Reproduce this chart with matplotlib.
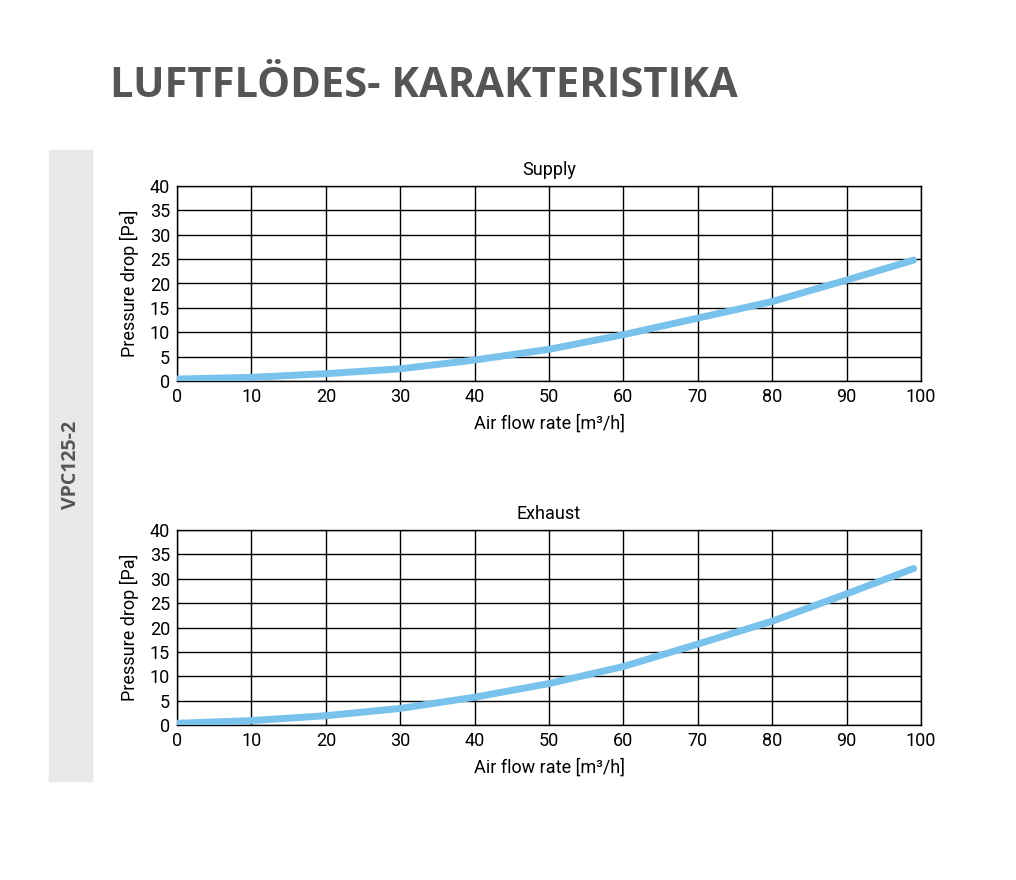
import matplotlib.pyplot as plt
from matplotlib.patches import Rectangle

plt.rcParams['font.family'] = ['Roboto', 'DejaVu Sans']

flow = [0, 10, 20, 30, 40, 50, 60, 70, 80, 90, 99]
supply = [0.4, 0.75, 1.5, 2.5, 4.3, 6.5, 9.5, 12.9, 16.3, 20.7, 24.8]
exhaust = [0.35, 0.9, 1.9, 3.4, 5.7, 8.5, 12.0, 16.6, 21.3, 26.9, 32.1]
x_ticks = list(range(0, 101, 10))
y_ticks = list(range(0, 41, 5))

title = 'LUFTFLÖDES- KARAKTERISTIKA'
model = 'VPC125-2'
curve_color = '#78c2ec'
text_gray = '#555555'

W, H = 1016, 880
fig = plt.figure(figsize=(W / 100, H / 100), dpi=100)

# grey side band with model name
fig.patches.append(Rectangle((49 / W, (H - 781) / H), 43 / W, 631 / H,
                             transform=fig.transFigure, color='#e8e8e8', zorder=0))
fig.text(71 / W, (H - 465) / H, model, rotation=90, ha='center', va='center',
         fontsize=14, fontweight='bold', color=text_gray, family='Open Sans')

fig.text(110 / W, (H - 97) / H, title, ha='left', va='baseline',
         fontsize=30, fontweight='bold', color=text_gray, family='Open Sans')


def draw(ax, y, name):
    ax.plot(flow, y, color=curve_color, lw=5, solid_capstyle='round', zorder=3)
    ax.set_xlim(0, 100)
    ax.set_ylim(0, 40)
    ax.set_xticks(x_ticks)
    ax.set_yticks(y_ticks)
    ax.grid(True, color='black', lw=1)
    ax.set_axisbelow(True)
    ax.tick_params(length=0, pad=5, labelsize=13)
    for s in ax.spines.values():
        s.set_color('black')
        s.set_linewidth(1)
    ax.set_title(name, fontsize=13, pad=8)
    ax.set_xlabel('Air flow rate [m³/h]', fontsize=13, labelpad=6)
    ax.set_ylabel('Pressure drop [Pa]', fontsize=13, labelpad=8)


ax1 = fig.add_axes([177 / W, (H - 381) / H, 744 / W, 195 / H])
draw(ax1, supply, 'Supply')
ax2 = fig.add_axes([177 / W, (H - 725) / H, 744 / W, 195 / H])
draw(ax2, exhaust, 'Exhaust')

fig.savefig('out.png', dpi=100)
